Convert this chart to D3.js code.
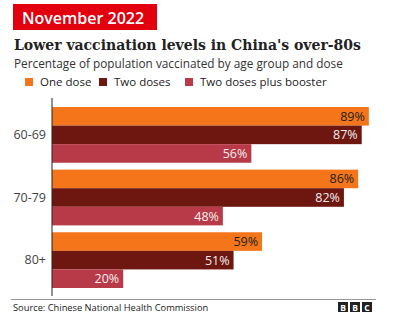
<!DOCTYPE html>
<html>
<head>
<meta charset="utf-8">
<script src="https://cdn.jsdelivr.net/npm/d3@7"></script>
<style>
  body { margin: 0; background: #fff; }
  text { font-family: "Open Sans", "Noto Sans", sans-serif; }
</style>
</head>
<body>
<script>
// chart data
var ageGroups = ["60-69", "70-79", "80+"];
var doseNames = ["One dose", "Two doses", "Two doses plus booster"];
var oneDose = [89, 86, 59];
var twoDoses = [87, 82, 51];
var booster = [56, 48, 20];

var width = 400, height = 321;
var colors = ["#f5761a", "#6e1710", "#b83a48"];
var labelColors = ["#222", "#eee", "#eee"];

var svg = d3.select("body").append("svg")
    .attr("width", width)
    .attr("height", height);

// header tag
svg.append("rect")
    .attr("x", 13).attr("y", 4)
    .attr("width", 144).attr("height", 26)
    .attr("fill", "#e2000f");
svg.append("text")
    .attr("x", 22).attr("y", 24)
    .attr("fill", "#fff")
    .style("font-size", "16px")
    .style("font-weight", 600)
    .text("November 2022");

svg.append("text")
    .attr("x", 14).attr("y", 50)
    .attr("fill", "#222")
    .style("font-family", "'DejaVu Serif', serif")
    .style("font-size", "14px")
    .style("font-weight", "bold")
    .text("Lower vaccination levels in China's over-80s");

svg.append("text")
    .attr("x", 14).attr("y", 68)
    .attr("fill", "#333")
    .style("font-size", "11.8px")
    .text("Percentage of population vaccinated by age group and dose");

// legend
var legendX = [25, 99, 185];
var legend = svg.selectAll(".legend")
    .data(doseNames)
    .enter().append("g")
    .attr("class", "legend")
    .attr("transform", function(d, i) { return "translate(" + legendX[i] + ",78)"; });
legend.append("rect")
    .attr("width", 8).attr("height", 8)
    .attr("fill", function(d, i) { return colors[i]; });
legend.append("text")
    .attr("x", 15).attr("y", 8)
    .attr("fill", "#222")
    .style("font-size", "11.5px")
    .text(function(d) { return d; });

// scales
var x = d3.scaleLinear().domain([0, 100]).range([52, 408]);
var y = d3.scaleBand().domain(ageGroups).range([107, 288]).paddingInner(0.11).paddingOuter(0);
var yInner = d3.scaleBand().domain(d3.range(3)).range([0, y.bandwidth()]);

var series = [oneDose, twoDoses, booster];

var groups = svg.selectAll(".grp")
    .data(ageGroups)
    .enter().append("g")
    .attr("class", "grp")
    .attr("transform", function(d) { return "translate(0," + y(d) + ")"; });

groups.each(function(age, gi) {
  var g = d3.select(this);
  series.forEach(function(vals, si) {
    g.append("rect")
        .attr("x", x(0))
        .attr("y", yInner(si))
        .attr("width", x(vals[gi]) - x(0))
        .attr("height", yInner.bandwidth())
        .attr("fill", colors[si]);
    g.append("text")
        .attr("x", x(vals[gi]) - 4)
        .attr("y", yInner(si) + yInner.bandwidth() / 2 + 4.5)
        .attr("text-anchor", "end")
        .attr("fill", labelColors[si])
        .style("font-size", "12.5px")
        .text(vals[gi] + "%");
  });
});

// category axis
var yAxis = d3.axisLeft(y).tickSize(0).tickPadding(6);
var ax = svg.append("g")
    .attr("transform", "translate(" + x(0) + ",0)")
    .call(yAxis);
ax.select(".domain").remove();
ax.selectAll("text")
    .attr("fill", "#444")
    .style("font-size", "12.5px")
    .style("font-family", "'Open Sans', sans-serif");
svg.append("line")
    .attr("x1", x(0)).attr("x2", x(0))
    .attr("y1", 98).attr("y2", 296)
    .attr("stroke", "#222").attr("stroke-width", 1);

// footer
svg.append("line")
    .attr("x1", 11).attr("x2", 376)
    .attr("y1", 299.5).attr("y2", 299.5)
    .attr("stroke", "#999").attr("stroke-width", 1);
svg.append("text")
    .attr("x", 13).attr("y", 311)
    .attr("fill", "#222")
    .style("font-size", "9.3px")
    .text("Source: Chinese National Health Commission");

var bbc = svg.selectAll(".bbc")
    .data(["B", "B", "C"])
    .enter().append("g")
    .attr("class", "bbc")
    .attr("transform", function(d, i) { return "translate(" + (338 + i * 12) + ",302)"; });
bbc.append("rect").attr("width", 10).attr("height", 10).attr("fill", "#222");
bbc.append("text")
    .attr("x", 5).attr("y", 8.5)
    .attr("text-anchor", "middle")
    .attr("fill", "#fff")
    .style("font-size", "8.5px")
    .style("font-weight", "bold")
    .text(function(d) { return d; });
</script>
</body>
</html>
